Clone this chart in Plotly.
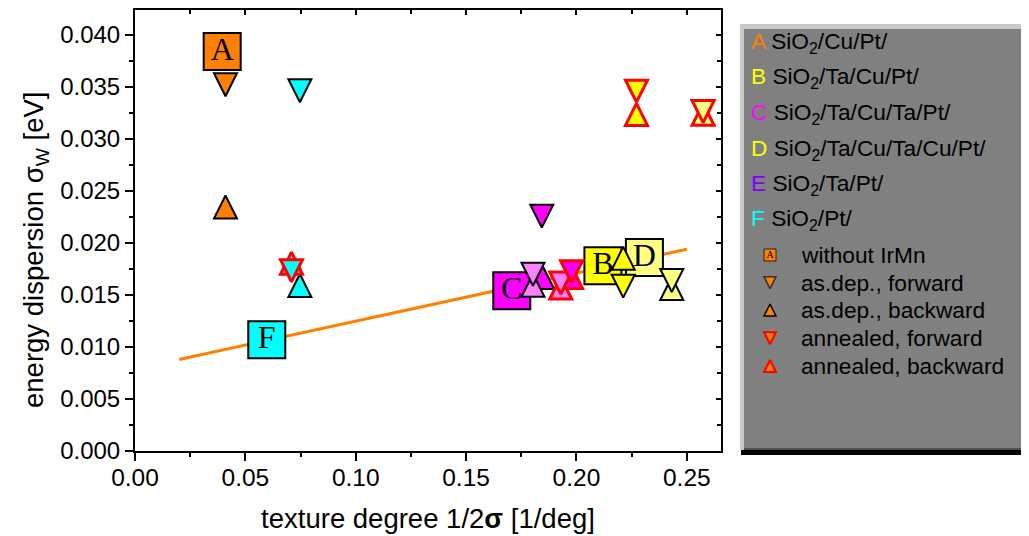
import plotly.graph_objects as go

# ---------------- data ----------------
sample_letters = ["A", "B", "C", "D", "E", "F"]
sample_layers = ["SiO<sub>2</sub>/Cu/Pt/", "SiO<sub>2</sub>/Ta/Cu/Pt/", "SiO<sub>2</sub>/Ta/Cu/Ta/Pt/",
                 "SiO<sub>2</sub>/Ta/Cu/Ta/Cu/Pt/", "SiO<sub>2</sub>/Ta/Pt/", "SiO<sub>2</sub>/Pt/"]
sample_colors = ["#FF8000", "#FFFF00", "#FF00FF", "#FFFF00", "#8000FF", "#00FFFF"]

# labelled squares: samples without IrMn
square_labels = ["A", "F", "C", "B", "D"]
square_x = [0.0395, 0.0597, 0.1707, 0.2120, 0.2308]
square_y = [0.0384, 0.0107, 0.0154, 0.0178, 0.0186]
square_colors = ["#FF8000", "#00FFFF", "#FF00FF", "#FFFF00", "#FFFF80"]

# as deposited, backward
asdep_bwd_x = [0.0410, 0.0747, 0.1847, 0.1803, 0.2212, 0.2432]
asdep_bwd_y = [0.02346, 0.01591, 0.01668, 0.01594, 0.01853, 0.01563]
asdep_bwd_colors = ["#FF8000", "#00FFFF", "#FF00FF", "#FF80FF", "#FFFF00", "#FFFF80"]

# as deposited, forward
asdep_fwd_x = [0.0410, 0.0747, 0.1843, 0.1803, 0.2212, 0.2432]
asdep_fwd_y = [0.03521, 0.03463, 0.02258, 0.01700, 0.01585, 0.01639]
asdep_fwd_colors = ["#FF8000", "#00FFFF", "#FF00FF", "#FF80FF", "#FFFF00", "#FFFF80"]

# annealed, backward
ann_bwd_x = [0.0709, 0.1929, 0.1978, 0.2272, 0.2574]
ann_bwd_y = [0.01805, 0.01567, 0.01668, 0.03236, 0.03237]
ann_bwd_colors = ["#00FFFF", "#FF80FF", "#FF00FF", "#FFFF00", "#FFFF80"]

# annealed, forward
ann_fwd_x = [0.0709, 0.1929, 0.1978, 0.2272, 0.2574]
ann_fwd_y = [0.01733, 0.01615, 0.01723, 0.03460, 0.03263]
ann_fwd_colors = ["#00FFFF", "#FF80FF", "#FF00FF", "#FFFF00", "#FFFF80"]

# linear fit
fit_x = [0.020, 0.250]
fit_y = [0.00880, 0.01940]

legend_types = ["without IrMn", "as.dep., forward", "as.dep., backward",
                "annealed, forward", "annealed, backward"]

x_range = [0, 0.2655]
y_range = [0, 0.0424]

# ---------------- layout geometry (screen pixels) ----------------
SCREEN_W, SCREEN_H = 1029, 536
OFF = 8                      # default body margin of the page
W, H = SCREEN_W - OFF, SCREEN_H - OFF
PLOT_L, PLOT_R, PLOT_T, PLOT_B = 135, 721, 10, 451   # screen coordinates of the plot frame
ML = PLOT_L - OFF
MT = PLOT_T - OFF
MB = SCREEN_H - PLOT_B
MR = 0
PW = W - ML - MR
PH = H - MT - MB


def px(xs):
    return (xs - PLOT_L) / PW


def py(ys):
    return (PLOT_B - ys) / PH


SANS = "Liberation Sans, Arial, sans-serif"
SERIF = "Liberation Serif, Times New Roman, serif"

fig = go.Figure()

# fit line
fig.add_trace(go.Scatter(x=fit_x, y=fit_y, mode="lines",
                         line=dict(color="#FF8000", width=3),
                         showlegend=False, hoverinfo="skip"))

# labelled squares
fig.add_trace(go.Scatter(x=square_x, y=square_y, mode="markers+text",
                         text=square_labels, textposition="middle center",
                         textfont=dict(family=SERIF, size=32, color="black"),
                         marker=dict(symbol="square", size=37, color=square_colors,
                                     line=dict(color="black", width=2)),
                         showlegend=False, hoverinfo="skip"))


def tri_marker(up, colors, edge, lw, size):
    return dict(symbol="arrow-down", angle=180 if up else 0, standoff=size / 2,
                size=size, color=colors, line=dict(color=edge, width=lw))


fig.add_trace(go.Scatter(x=asdep_bwd_x, y=asdep_bwd_y, mode="markers",
                         marker=tri_marker(True, asdep_bwd_colors, "black", 2, 23),
                         showlegend=False, hoverinfo="skip"))
fig.add_trace(go.Scatter(x=asdep_fwd_x, y=asdep_fwd_y, mode="markers",
                         marker=tri_marker(False, asdep_fwd_colors, "black", 2, 23),
                         showlegend=False, hoverinfo="skip"))
fig.add_trace(go.Scatter(x=ann_bwd_x, y=ann_bwd_y, mode="markers",
                         marker=tri_marker(True, ann_bwd_colors, "#FF0000", 3, 22),
                         showlegend=False, hoverinfo="skip"))
fig.add_trace(go.Scatter(x=ann_fwd_x, y=ann_fwd_y, mode="markers",
                         marker=tri_marker(False, ann_fwd_colors, "#FF0000", 3, 22),
                         showlegend=False, hoverinfo="skip"))

# dummy trace for the mirrored (top/right) axes
fig.add_trace(go.Scatter(x=[None], y=[None], xaxis="x2", yaxis="y2",
                         showlegend=False, hoverinfo="skip"))

# ---------------- legend panel ----------------
shapes = [
    dict(type="rect", xref="paper", yref="paper", x0=px(741), x1=px(1040), y0=py(455), y1=py(29),
         fillcolor="black", line=dict(width=0), layer="below"),
    dict(type="rect", xref="paper", yref="paper", x0=px(740), x1=px(1035), y0=py(450), y1=py(24),
         fillcolor="#C8C8C8", line=dict(width=0), layer="below"),
    dict(type="rect", xref="paper", yref="paper", x0=px(744), x1=px(1035), y0=py(450), y1=py(29),
         fillcolor="#808080", line=dict(width=0), layer="below"),
    dict(type="rect", xref="paper", yref="paper", x0=px(744), x1=px(1035), y0=py(450), y1=py(448),
         fillcolor="#505050", line=dict(width=0), layer="below"),
]

annotations = []
row_y_top = [42.5, 77.5, 113.5, 149, 184, 219]
for letter, layers, col, ry in zip(sample_letters, sample_layers, sample_colors, row_y_top):
    annotations.append(dict(
        xref="x3", yref="y3", x=748.5, y=ry, xanchor="left", yanchor="middle",
        text=f'<span style="color:{col}">{letter}</span> {layers}', showarrow=False,
        font=dict(family=SANS, size=22.7, color="black")))

row_y_bot = [255, 282.7, 310, 338.3, 366]
for name, ry in zip(legend_types, row_y_bot):
    annotations.append(dict(
        xref="x3", yref="y3", x=799, y=ry, xanchor="left", yanchor="middle",
        text=name, showarrow=False, font=dict(family=SANS, size=22.7, color="black")))

# y axis title placed explicitly (it sits below the axis centre in the original)
annotations.append(dict(
    xref="paper", yref="paper", x=px(36), y=py(250), xanchor="center", yanchor="middle",
    textangle=-90, text="energy dispersion σ<sub>W</sub> [eV]", showarrow=False,
    font=dict(family=SANS, size=27.5, color="black")))

KEY_X = 770
# legend key symbols (drawn on a hidden screen-pixel axis pair)
fig.add_trace(go.Scatter(x=[KEY_X], y=[row_y_bot[0]], mode="markers+text", xaxis="x3", yaxis="y3",
                         text=["A"], textposition="middle center",
                         textfont=dict(family=SERIF, size=10, color="black"),
                         marker=dict(symbol="square", size=12, color="#FF8000",
                                     line=dict(color="#202020", width=1)),
                         showlegend=False, hoverinfo="skip"))
key_specs = [(False, "#303030", 1.5), (True, "black", 1.5), (False, "#FF0000", 2), (True, "#FF0000", 2)]
for (up, edge, lw), ry in zip(key_specs, row_y_bot[1:]):
    fig.add_trace(go.Scatter(x=[KEY_X], y=[ry], mode="markers", xaxis="x3", yaxis="y3",
                             marker=tri_marker(up, "#FF8000", edge, lw, 12),
                             showlegend=False, hoverinfo="skip"))

axis_common = dict(showline=True, linecolor="black", linewidth=2, showgrid=False, zeroline=False,
                   tickcolor="black", tickwidth=2, ticklen=8, automargin=False)

fig.update_layout(
    template="none",
    width=W, height=H,
    margin=dict(l=ML, r=MR, t=MT, b=MB, pad=0),
    paper_bgcolor="white", plot_bgcolor="white",
    font=dict(family=SANS, color="black"),
    xaxis=dict(domain=[0, px(PLOT_R)], range=x_range, anchor="y",
               ticks="outside", dtick=0.05, tick0=0, tickformat=".2f",
               tickfont=dict(size=24.5), ticklabelstandoff=-4,
               minor=dict(ticks="outside", dtick=0.025, ticklen=4, tickwidth=2, tickcolor="black"),
               title=dict(text="texture degree 1/2<b>σ</b> [1/deg]", font=dict(size=27.5), standoff=18),
               **axis_common),
    yaxis=dict(domain=[0, 1], range=y_range, anchor="x",
               ticks="outside", dtick=0.005, tick0=0, tickformat=".3f",
               tickfont=dict(size=24),
               minor=dict(ticks="outside", dtick=0.0025, ticklen=4, tickwidth=2, tickcolor="black"),
               **axis_common),
    xaxis2=dict(overlaying="x", side="top", range=x_range, anchor="y2",
                ticks="inside", dtick=0.05, tick0=0, showticklabels=False,
                minor=dict(ticks="inside", dtick=0.025, ticklen=4, tickwidth=2, tickcolor="black"),
                showline=True, linecolor="black", linewidth=2, showgrid=False, zeroline=False,
                tickcolor="black", tickwidth=2, ticklen=5, automargin=False),
    yaxis2=dict(overlaying="y", side="right", range=y_range, anchor="x2",
                ticks="inside", dtick=0.005, tick0=0, showticklabels=False,
                minor=dict(ticks="inside", dtick=0.0025, ticklen=4, tickwidth=2, tickcolor="black"),
                showline=True, linecolor="black", linewidth=2, showgrid=False, zeroline=False,
                tickcolor="black", tickwidth=2, ticklen=5, automargin=False),
    xaxis3=dict(domain=[px(740), 1], range=[740, PLOT_L + PW], anchor="y3",
                visible=False, fixedrange=True, automargin=False),
    yaxis3=dict(domain=[0, 1], range=[PLOT_B, PLOT_T], anchor="x3", visible=False, fixedrange=True,
                automargin=False),
    shapes=shapes,
    annotations=annotations,
    showlegend=False,
)

fig.write_html("out.html")
